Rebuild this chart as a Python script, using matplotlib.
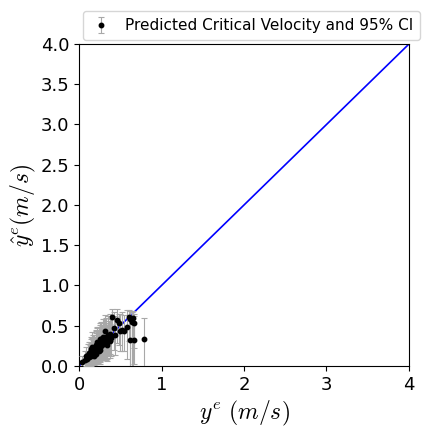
import matplotlib
matplotlib.use("Agg")
import matplotlib.pyplot as plt
import numpy as np

# measured critical velocity (m/s)
y_true = [0.04, 0.07, 0.09, 0.10, 0.11, 0.12, 0.13, 0.13, 0.14, 0.15,
          0.15, 0.16, 0.16, 0.17, 0.17, 0.18, 0.18, 0.19, 0.19, 0.20,
          0.20, 0.21, 0.21, 0.22, 0.22, 0.23, 0.23, 0.24, 0.24, 0.25,
          0.25, 0.26, 0.26, 0.27, 0.28, 0.28, 0.29, 0.30, 0.30, 0.31,
          0.32, 0.33, 0.34, 0.35, 0.36, 0.38, 0.31, 0.40, 0.46, 0.48,
          0.50, 0.55, 0.58, 0.61, 0.62, 0.64, 0.67, 0.62, 0.67, 0.79,
          0.12, 0.20, 0.24, 0.27, 0.33, 0.37, 0.42, 0.44, 0.52, 0.65,
          0.14, 0.18, 0.22, 0.26, 0.29, 0.16, 0.21, 0.25, 0.34, 0.39]
# predicted critical velocity (m/s)
y_pred = [0.05, 0.08, 0.12, 0.09, 0.14, 0.11, 0.16, 0.13, 0.12, 0.18,
          0.15, 0.14, 0.19, 0.17, 0.21, 0.16, 0.22, 0.20, 0.17, 0.23,
          0.19, 0.22, 0.25, 0.20, 0.27, 0.24, 0.21, 0.28, 0.25, 0.23,
          0.30, 0.27, 0.24, 0.31, 0.29, 0.26, 0.33, 0.30, 0.35, 0.28,
          0.32, 0.36, 0.30, 0.38, 0.34, 0.40, 0.43, 0.61, 0.57, 0.53,
          0.43, 0.43, 0.49, 0.61, 0.32, 0.55, 0.54, 0.58, 0.32, 0.34,
          0.16, 0.26, 0.18, 0.33, 0.28, 0.31, 0.47, 0.38, 0.45, 0.60,
          0.21, 0.13, 0.30, 0.20, 0.36, 0.24, 0.15, 0.33, 0.26, 0.35]
# 95% CI half-widths (lower, upper)
err_low = [0.08, 0.10, 0.12, 0.10, 0.13, 0.12, 0.14, 0.13, 0.12, 0.15,
           0.14, 0.13, 0.16, 0.15, 0.17, 0.14, 0.17, 0.16, 0.15, 0.18,
           0.16, 0.17, 0.19, 0.16, 0.20, 0.18, 0.17, 0.20, 0.19, 0.18,
           0.21, 0.20, 0.18, 0.22, 0.21, 0.19, 0.22, 0.21, 0.23, 0.20,
           0.22, 0.23, 0.21, 0.24, 0.22, 0.25, 0.26, 0.30, 0.28, 0.27,
           0.25, 0.25, 0.40, 0.30, 0.40, 0.65, 0.32, 0.62, 0.30, 0.40,
           0.14, 0.19, 0.16, 0.22, 0.20, 0.21, 0.27, 0.24, 0.27, 0.70,
           0.15, 0.12, 0.19, 0.17, 0.22, 0.18, 0.13, 0.21, 0.20, 0.23]
err_high = [0.08, 0.10, 0.12, 0.10, 0.13, 0.12, 0.14, 0.13, 0.12, 0.15,
            0.14, 0.13, 0.16, 0.15, 0.17, 0.14, 0.17, 0.16, 0.15, 0.18,
            0.16, 0.17, 0.19, 0.16, 0.20, 0.18, 0.17, 0.20, 0.19, 0.18,
            0.21, 0.20, 0.18, 0.22, 0.21, 0.19, 0.22, 0.21, 0.23, 0.20,
            0.22, 0.23, 0.21, 0.24, 0.22, 0.25, 0.20, 0.10, 0.14, 0.12,
            0.22, 0.20, 0.20, 0.08, 0.30, 0.12, 0.10, 0.10, 0.30, 0.26,
            0.14, 0.19, 0.16, 0.22, 0.20, 0.21, 0.20, 0.24, 0.22, 0.08,
            0.15, 0.12, 0.19, 0.17, 0.22, 0.18, 0.13, 0.21, 0.20, 0.23]

plt.rcParams['mathtext.fontset'] = 'cm'
fig = plt.figure(figsize=(4.28, 4.28), dpi=100)
ax = fig.add_axes([0.1846, 0.1449, 0.7710, 0.7523])

ax.plot([0, 4], [0, 4], color='blue', linewidth=1.2, zorder=2)
ax.errorbar(y_true, y_pred, yerr=[err_low, err_high], fmt='o', color='black',
            ecolor='#a8a8a8', elinewidth=0.8, capsize=2.5, capthick=0.8,
            markersize=3.2, zorder=3,
            label='Predicted Critical Velocity and 95% CI')

ax.set_xlim(0, 4)
ax.set_ylim(0, 4)
ax.set_xticks([0, 1, 2, 3, 4])
ax.set_yticks(np.arange(0, 4.01, 0.5))
ax.tick_params(labelsize=13)
ax.set_xlabel(r'$y^e\ (m/s)$', fontsize=17)
ax.set_ylabel(r'$\hat{y}^e (m/s)$', fontsize=17, labelpad=2)
ax.legend(loc='upper right', bbox_to_anchor=(1.057, 1.125), fontsize=11,
          handletextpad=0.9, handlelength=1.4, borderpad=0.45)

fig.savefig('out.png', dpi=100)
